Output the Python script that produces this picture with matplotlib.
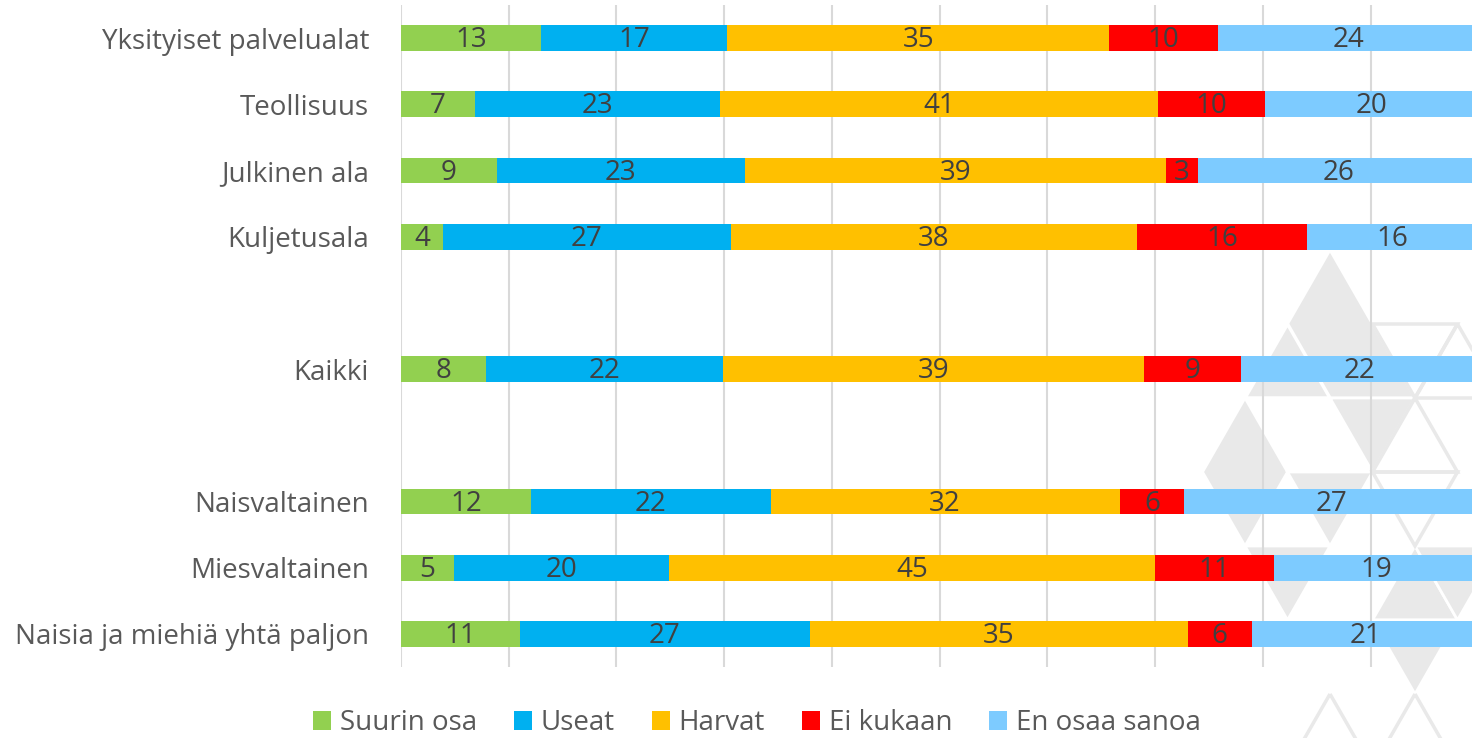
import numpy as np
import matplotlib
matplotlib.use('Agg')
import matplotlib.pyplot as plt
from matplotlib.patches import Polygon

# --- DATA ---
CATEGORIES = [
    "Yksityiset palvelualat", "Teollisuus", "Julkinen ala", "Kuljetusala",
    "Kaikki",
    "Naisvaltainen", "Miesvaltainen", "Naisia ja miehiä yhtä paljon",
]
GROUP_SIZES = [4, 1, 3]

SERIES = ["Suurin osa", "Useat", "Harvat", "Ei kukaan", "En osaa sanoa"]
suurin_osa = [13.0, 6.9, 8.9, 3.9, 7.9, 12.1, 4.9, 11.0]
useat = [17.3, 22.7, 23.0, 26.7, 22.0, 22.2, 20.0, 27.0]
harvat = [35.4, 40.7, 39.1, 37.7, 39.1, 32.4, 45.1, 35.0]
ei_kukaan = [10.1, 9.9, 3.0, 15.8, 9.0, 6.0, 11.0, 6.0]
en_osaa = [24.2, 19.8, 26.0, 15.9, 22.0, 27.3, 19.0, 21.0]

COLORS = ["#92D050", "#00B0F0", "#FFC000", "#FF0000", "#7DCBFF"]
TEXT_GRAY = "#595959"
LABEL_GRAY = "#404040"
FONT = "Open Sans"
FS = 20

plt.rcParams['font.family'] = [FONT, 'DejaVu Sans']


def row_positions(group_sizes):
    """Slot index per category, leaving one empty slot between groups."""
    pos, slot = [], 0
    for g in group_sizes:
        for _ in range(g):
            pos.append(slot)
            slot += 1
        slot += 1
    return pos


def draw_watermark(bg):
    """Faint triangle pattern behind the plot (lattice in pixel units)."""
    x0, y0, a, h = 1330, 250, 42.5, 74

    def p(j, k):
        return (x0 + a * j, y0 + h * k)

    fill = "#E9E9E9"
    filled = [
        [p(0, 0), p(-2, 2), p(2, 2)],
        [p(0, 2), p(2, 2), p(1, 3)],
        [p(-2, 2), p(-3, 3), p(-2, 4), p(-1, 3)],
        [p(-1, 3), p(1, 3), p(0, 4)],
        [p(-2, 4), p(0, 4), p(-1, 5)],
        [p(2, 4), p(1, 5), p(3, 5)],
        [p(1, 5), p(3, 5), p(2, 6)],
        [p(2, 4), p(4, 4), p(3, 5)],
    ]
    for verts in filled:
        bg.add_patch(Polygon(verts, closed=True, facecolor=fill,
                             edgecolor="white", linewidth=2.0))
    # inner sub-triangle with white outline
    bg.add_patch(Polygon([p(-1, 1), p(-2, 2), p(0, 2)], closed=True,
                         facecolor=fill, edgecolor="white", linewidth=2.5))
    outlined = [
        [p(2, 2), p(1, 3), p(3, 3)],
        [p(1, 1), p(3, 1), p(2, 2)],
        [p(3, 1), p(2, 2), p(4, 2)],
        [p(1, 3), p(3, 3), p(2, 4)],
        [p(0, 6), p(-1, 7), p(1, 7)],
        [p(2, 6), p(1, 7), p(3, 7)],
    ]
    for verts in outlined:
        bg.add_patch(Polygon(verts, closed=True, facecolor="none",
                             edgecolor=fill, linewidth=2.5))


def main():
    fig = plt.figure(figsize=(14.72, 7.38), dpi=100)

    bg = fig.add_axes([0, 0, 1, 1], zorder=0)
    bg.set_xlim(0, 1472)
    bg.set_ylim(738, 0)
    bg.axis('off')
    draw_watermark(bg)

    ax = fig.add_axes([401 / 1472, 1 - 667 / 738, 1 - 401 / 1472, 662 / 738], zorder=1)
    ax.set_facecolor('none')

    y = np.array(row_positions(GROUP_SIZES))
    data = [suurin_osa, useat, harvat, ei_kukaan, en_osaa]

    left = np.zeros(len(CATEGORIES))
    for name, vals, color in zip(SERIES, data, COLORS):
        vals = np.array(vals)
        ax.barh(y, vals, left=left, height=0.39, color=color,
                label=name, zorder=3)
        # value labels centred in each segment
        for yi, l, v in zip(y, left, vals):
            ax.annotate(f"{v:.0f}", (l + v / 2, yi), xytext=(0, -1.5),
                        textcoords='offset points', ha='center', va='center',
                        color=LABEL_GRAY, fontsize=FS, zorder=4)
        left += vals

    ax.set_xlim(0, 99.4)
    ax.set_ylim(y.max() + 0.5, -0.5)
    ax.set_xticks(np.arange(0, 100, 10))
    ax.set_xticklabels([])
    ax.set_yticks(y)
    ax.set_yticklabels(CATEGORIES, color=TEXT_GRAY, fontsize=FS)
    ax.tick_params(axis='both', length=0)
    ax.tick_params(axis='y', pad=23)
    ax.grid(True, axis='x', color="#D9D9D9", linewidth=1.5, zorder=0)
    ax.set_axisbelow(True)
    for s in ax.spines.values():
        s.set_visible(False)

    leg = ax.legend(loc='center', bbox_to_anchor=(757 / 1472, 1 - 723 / 738),
                    bbox_transform=fig.transFigure, ncol=5, frameon=False,
                    fontsize=FS, handlelength=0.65, handleheight=0.65,
                    handletextpad=0.32, columnspacing=1.33,
                    borderpad=0, borderaxespad=0)
    for t in leg.get_texts():
        t.set_color(TEXT_GRAY)

    fig.savefig("out.png", dpi=100)
    plt.close(fig)


if __name__ == '__main__':
    main()
